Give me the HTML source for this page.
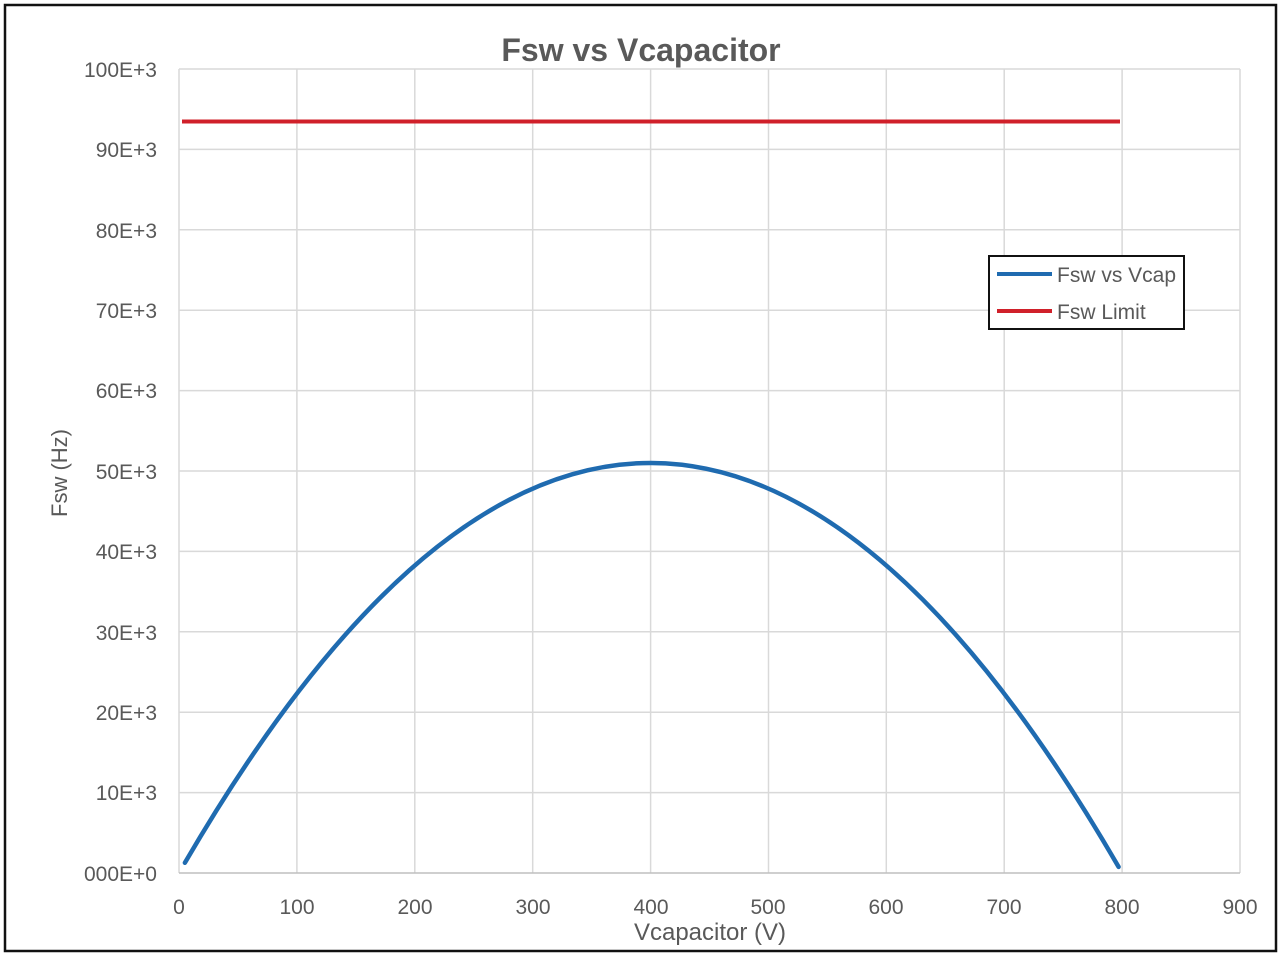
<!DOCTYPE html>
<html><head><style>body{margin:0;background:#fff}svg{display:block}text{font-family:"Liberation Sans",sans-serif;fill:#595959}</style></head><body>
<svg width="1280" height="955" viewBox="0 0 1280 955">
<rect x="5" y="5" width="1271" height="946" fill="#fff" stroke="#111" stroke-width="2.5"/>
<g stroke="#d9d9d9" stroke-width="1.5">
<line x1="179" y1="69" x2="1240" y2="69"/><line x1="179" y1="149.4" x2="1240" y2="149.4"/><line x1="179" y1="229.8" x2="1240" y2="229.8"/><line x1="179" y1="310.2" x2="1240" y2="310.2"/><line x1="179" y1="390.6" x2="1240" y2="390.6"/><line x1="179" y1="471" x2="1240" y2="471"/><line x1="179" y1="551.4" x2="1240" y2="551.4"/><line x1="179" y1="631.8" x2="1240" y2="631.8"/><line x1="179" y1="712.2" x2="1240" y2="712.2"/><line x1="179" y1="792.6" x2="1240" y2="792.6"/>
<line x1="179" y1="69" x2="179" y2="873"/><line x1="296.9" y1="69" x2="296.9" y2="873"/><line x1="414.8" y1="69" x2="414.8" y2="873"/><line x1="532.7" y1="69" x2="532.7" y2="873"/><line x1="650.6" y1="69" x2="650.6" y2="873"/><line x1="768.5" y1="69" x2="768.5" y2="873"/><line x1="886.3" y1="69" x2="886.3" y2="873"/><line x1="1004.2" y1="69" x2="1004.2" y2="873"/><line x1="1122.1" y1="69" x2="1122.1" y2="873"/><line x1="1240" y1="69" x2="1240" y2="873"/>
<line x1="179" y1="873" x2="1240" y2="873" stroke="#bfbfbf"/>
</g>
<line x1="182" y1="121.5" x2="1120" y2="121.5" stroke="#d0202a" stroke-width="4"/>
<path d="M184.9 862.8 Q651.7 61.1 1118.6 866.9" fill="none" stroke="#1f6bb0" stroke-width="4.5" stroke-linecap="round"/>
<text x="641" y="61" font-size="32" font-weight="bold" text-anchor="middle" fill="#595959">Fsw vs Vcapacitor</text>
<g font-size="21" text-anchor="end">
<text x="157" y="77">100E+3</text><text x="157" y="157">90E+3</text><text x="157" y="238">80E+3</text><text x="157" y="318">70E+3</text><text x="157" y="398">60E+3</text><text x="157" y="479">50E+3</text><text x="157" y="559">40E+3</text><text x="157" y="640">30E+3</text><text x="157" y="720">20E+3</text><text x="157" y="800">10E+3</text><text x="157" y="881">000E+0</text>
</g>
<g font-size="21" text-anchor="middle">
<text x="179" y="914">0</text><text x="297" y="914">100</text><text x="415" y="914">200</text><text x="533" y="914">300</text><text x="651" y="914">400</text><text x="768" y="914">500</text><text x="886" y="914">600</text><text x="1004" y="914">700</text><text x="1122" y="914">800</text><text x="1240" y="914">900</text>
</g>
<text x="710" y="940" font-size="24" text-anchor="middle">Vcapacitor (V)</text>
<text transform="translate(67 473) rotate(-90)" font-size="22" text-anchor="middle">Fsw (Hz)</text>
<rect x="989" y="256" width="195" height="73" fill="#fff" stroke="#111" stroke-width="2"/>
<line x1="997" y1="274" x2="1052" y2="274" stroke="#1f6bb0" stroke-width="4"/>
<line x1="997" y1="311" x2="1052" y2="311" stroke="#d0202a" stroke-width="4"/>
<text x="1057" y="282" font-size="21">Fsw vs Vcap</text>
<text x="1057" y="319" font-size="21">Fsw Limit</text>
</svg>
</body></html>
